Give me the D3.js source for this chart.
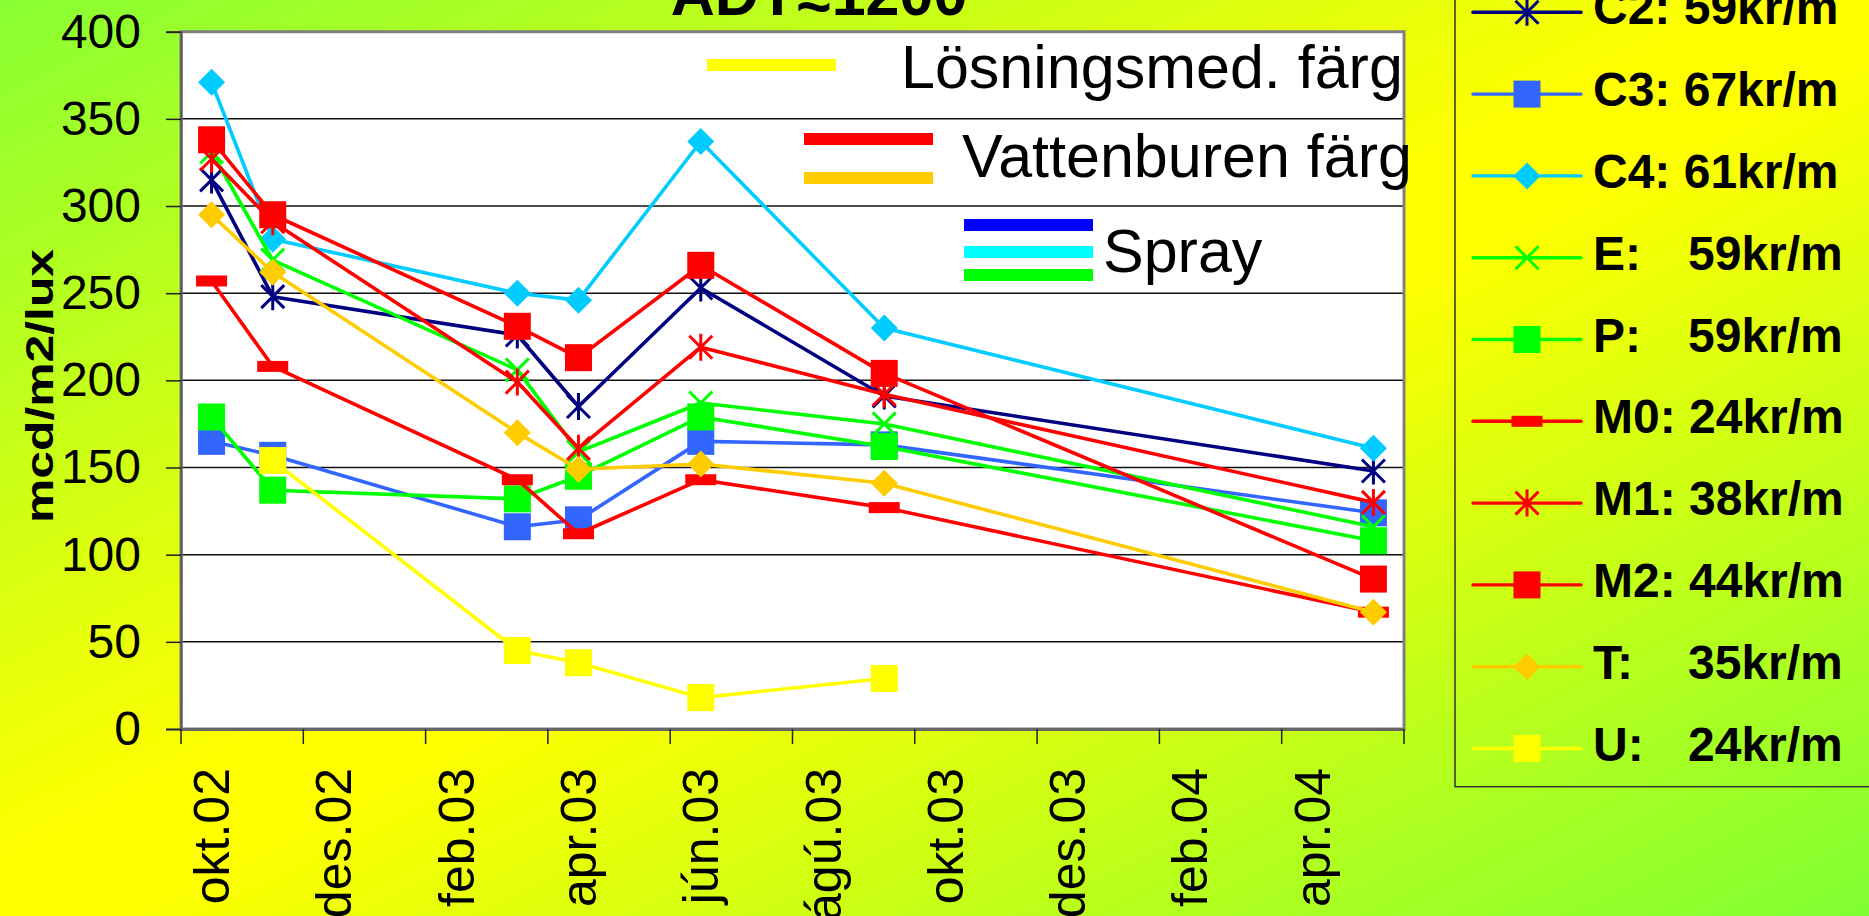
<!DOCTYPE html>
<html>
<head>
<meta charset="utf-8">
<script src="https://cdn.jsdelivr.net/npm/d3@7/dist/d3.min.js"></script>
<style>
  body { margin: 0; }
  svg { display: block; font-family: "Liberation Sans", Arial, sans-serif; }
</style>
</head>
<body>
<div id="chart"></div>
<script>

// date axis, base unit = month
const months = ['2002-10', '2002-11', '2002-12', '2003-01', '2003-02', '2003-03', '2003-04',
                '2003-05', '2003-06', '2003-07', '2003-08', '2003-09', '2003-10', '2003-11',
                '2003-12', '2004-01', '2004-02', '2004-03', '2004-04', '2004-05'];
const tickLabels = ['okt.02', 'des.02', 'feb.03', 'apr.03', 'jún.03', 'ágú.03',
                    'okt.03', 'des.03', 'feb.04', 'apr.04'];
const sampleMonths = ['2002-10', '2002-11', '2003-03', '2003-04', '2003-06', '2003-09', '2004-05'];
const yTicks = [0, 50, 100, 150, 200, 250, 300, 350, 400];

// series (legend order)
const seriesNames  = ['C2: 59kr/m', 'C3: 67kr/m', 'C4: 61kr/m', 'E:\t59kr/m', 'P:\t59kr/m',
                      'M0: 24kr/m', 'M1: 38kr/m', 'M2: 44kr/m', 'T:\t35kr/m', 'U:\t24kr/m'];
const seriesColors = ['#000080', '#3366FF', '#00CCFF', '#00FF00', '#00FF00',
                      '#FF0000', '#FF0000', '#FF0000', '#FFCC00', '#FFFF00'];
const seriesMarkers = ['star', 'square', 'diamond', 'x', 'square',
                       'dash', 'star', 'square', 'diamond', 'square'];

const valuesC2 = [315, 248, 226, 185, 253, 191, 148];
const valuesC3 = [165, 157, 116, 120, 165, 163, 124];
const valuesC4 = [371, 281, 250, 246, 337, 230, 161];
const valuesE  = [331, 269, 206, 159, 187, 175, 116];
const valuesP  = [179, 137, 132, 145, 179, 162, 108];
const valuesM0 = [257, 208, 143, 112, 143, 127, 67];
const valuesM1 = [327, 291, 199, 161, 219, 192, 130];
const valuesM2 = [338, 295, 231, 213, 266, 204, 86];
const valuesT  = [295, 262, 170, 149, 152, 141, 67];
const valuesU  = [null, 154, 45, 38, 18, 29, null];

// paint type groups drawn inside the plot
const groupLabels = ['Lösningsmed. färg', 'Vattenburen färg', 'Spray'];
const groupColors = [['#FFFF00'], ['#FF0000', '#FFCC00'], ['#0000FF', '#00FFFF', '#00FF00']];

const chartTitle = ['ADT', '~', '1200'];
const yTitle = 'mcd/m2/lux';


class LuxChart {

  constructor(_parentContainer) {
    this.parentContainer = _parentContainer;
    this.initVis();
  }

  initVis() {
    this.widthTotal  = 1869;
    this.heightTotal = 916;

    // plot area in page pixels
    this.plot = { left: 181, right: 1404, top: 31.7, bottom: 729 };

    this.svg = d3.select(this.parentContainer)
        .append('svg')
        .attr('width', this.widthTotal)
        .attr('height', this.heightTotal);

    this.addBackground();
    this.createScales();
    this.addAxes();
    this.addSeries();
    this.addGroupLegend();
    this.addLegend();
  }

  addBackground() {
    const grad = this.svg.append('defs').append('linearGradient')
        .attr('id', 'bg')
        .attr('x1', 0).attr('y1', 0)
        .attr('x2', 1).attr('y2', 1);
    grad.append('stop').attr('offset', 0).attr('stop-color', '#88FF33');
    grad.append('stop').attr('offset', 0.47).attr('stop-color', '#FFFF00');
    grad.append('stop').attr('offset', 0.53).attr('stop-color', '#FFFF00');
    grad.append('stop').attr('offset', 1).attr('stop-color', '#80FF33');

    this.svg.append('rect')
        .attr('width', this.widthTotal)
        .attr('height', this.heightTotal)
        .attr('fill', 'url(#bg)');

    // title, mostly above the page edge (tilde sits low in the original font)
    const title = this.svg.append('text')
        .attr('x', 819)
        .attr('y', 15)
        .attr('text-anchor', 'middle')
        .style('font-size', '61px')
        .style('font-weight', 'bold');
    title.append('tspan').text(chartTitle[0]);
    title.append('tspan').attr('dy', 12).text(chartTitle[1]);
    title.append('tspan').attr('dy', -12).text(chartTitle[2]);
  }

  createScales() {
    this.xScale = d3.scaleBand()
        .domain(months)
        .range([this.plot.left, this.plot.right])
        .padding(0);

    this.yScale = d3.scaleLinear()
        .domain([0, 400])
        .range([this.plot.bottom, this.plot.top]);
  }

  addAxes() {
    const p = this.plot;

    this.svg.append('rect')
        .attr('x', p.left)
        .attr('y', p.top)
        .attr('width', p.right - p.left)
        .attr('height', p.bottom - p.top)
        .attr('fill', '#fff');

    // gridlines
    this.svg.append('g')
        .selectAll('line')
        .data(yTicks.filter(d => d > 0 && d < 400))
        .join('line')
          .attr('x1', p.left)
          .attr('x2', p.right)
          .attr('y1', d => this.yScale(d))
          .attr('y2', d => this.yScale(d))
          .attr('stroke', '#111')
          .attr('stroke-width', 1.5);

    this.svg.append('rect')
        .attr('x', p.left)
        .attr('y', p.top)
        .attr('width', p.right - p.left)
        .attr('height', p.bottom - p.top)
        .attr('fill', 'none')
        .attr('stroke', '#808080')
        .attr('stroke-width', 3);

    // Y-AXIS
    this.yAxisCall = d3.axisLeft(this.yScale)
        .tickValues(yTicks)
        .tickSize(15)
        .tickPadding(25);

    this.yAxis = this.svg.append('g')
        .attr('transform', `translate(${p.left}, 0)`)
        .call(this.yAxisCall);
    this.yAxis.select('.domain').attr('stroke', '#555').attr('stroke-width', 2);
    this.yAxis.selectAll('.tick line').attr('stroke', '#222').attr('stroke-width', 1.5);
    this.yAxis.selectAll('text')
        .attr('fill', '#000')
        .style('font-size', '48px')
        .style('font-family', '"Liberation Sans", Arial, sans-serif');

    // X-AXIS: labels centred on every second month
    const labelMonths = months.filter((m, i) => i % 2 === 0);

    this.xAxisCall = d3.axisBottom(this.xScale)
        .tickValues(labelMonths)
        .tickSize(0)
        .tickFormat((m, i) => tickLabels[i]);

    this.xAxis = this.svg.append('g')
        .attr('transform', `translate(0, ${p.bottom})`)
        .call(this.xAxisCall);
    this.xAxis.select('.domain').attr('stroke', '#666').attr('stroke-width', 3);
    this.xAxis.selectAll('text')
        .attr('fill', '#000')
        .attr('transform', 'rotate(-90)')
        .attr('text-anchor', 'end')
        .attr('x', -39)
        .attr('y', 0)
        .attr('dy', '0.35em')
        .style('font-size', '50px')
        .style('font-family', '"Liberation Sans", Arial, sans-serif');

    // tick marks on the month boundaries
    const tickX = labelMonths.map(m => this.xScale(m)).concat([p.right]);
    this.svg.append('g')
        .selectAll('line')
        .data(tickX)
        .join('line')
          .attr('x1', d => d)
          .attr('x2', d => d)
          .attr('y1', p.bottom)
          .attr('y2', p.bottom + 15)
          .attr('stroke', '#222')
          .attr('stroke-width', 1.5);

    // axis title
    this.svg.append('text')
        .attr('transform', 'translate(53, 386) rotate(-90)')
        .attr('text-anchor', 'middle')
        .attr('textLength', 274)
        .attr('lengthAdjust', 'spacingAndGlyphs')
        .style('font-size', '39px')
        .style('font-weight', 'bold')
        .text(yTitle);
  }

  drawMarker(g, type, color) {
    const h = 13.5;
    if (type === 'square') {
      g.append('rect')
          .attr('x', -h).attr('y', -h)
          .attr('width', 2 * h).attr('height', 2 * h)
          .attr('fill', color);
    } else if (type === 'diamond') {
      g.append('path')
          .attr('d', `M0,${-h}L${h},0L0,${h}L${-h},0Z`)
          .attr('fill', color);
    } else if (type === 'dash') {
      g.append('rect')
          .attr('x', -15.5).attr('y', -5.5)
          .attr('width', 31).attr('height', 11)
          .attr('fill', color);
    } else {
      // x and star (x plus vertical stroke)
      let d = `M${-h + 2},${-h + 2}L${h - 2},${h - 2}M${h - 2},${-h + 2}L${-h + 2},${h - 2}`;
      if (type === 'star') d += `M0,${-h}L0,${h}`;
      g.append('path')
          .attr('d', d)
          .attr('fill', 'none')
          .attr('stroke', color)
          .attr('stroke-width', 3);
    }
  }

  addSeries() {
    const allValues = [valuesC2, valuesC3, valuesC4, valuesE, valuesP,
                       valuesM0, valuesM1, valuesM2, valuesT, valuesU];

    this.seriesData = allValues.map((vals, s) => ({
      color: seriesColors[s],
      marker: seriesMarkers[s],
      points: vals.map((v, i) => ({ month: sampleMonths[i], value: v }))
    }));

    const xc = m => this.xScale(m) + this.xScale.bandwidth() / 2;

    this.line = d3.line()
        .defined(d => d.value !== null)
        .x(d => xc(d.month))
        .y(d => this.yScale(d.value));

    this.seriesData.forEach(s => {
      const g = this.svg.append('g');

      g.append('path')
          .datum(s.points)
          .attr('d', this.line)
          .attr('fill', 'none')
          .attr('stroke', s.color)
          .attr('stroke-width', 3.6)
          .attr('stroke-linejoin', 'round');

      s.points.filter(d => d.value !== null).forEach(d => {
        const mg = g.append('g')
            .attr('transform', `translate(${xc(d.month)}, ${this.yScale(d.value)})`);
        this.drawMarker(mg, s.marker, s.color);
      });
    });
  }

  addGroupLegend() {
    // bar boxes and labels drawn on top of the plot
    const barX  = [707, 804, 964];
    const barY  = [[59], [133, 172], [219, 246, 269]];
    const textX = [901, 962, 1103];
    const textY = [88, 177, 272];

    groupLabels.forEach((label, i) => {
      groupColors[i].forEach((c, j) => {
        this.svg.append('rect')
            .attr('x', barX[i])
            .attr('y', barY[i][j])
            .attr('width', 129)
            .attr('height', 12)
            .attr('fill', c);
      });

      this.svg.append('text')
          .attr('x', textX[i])
          .attr('y', textY[i])
          .style('font-size', '61px')
          .text(label);
    });
  }

  addLegend() {
    const rowY = i => 12.3 + i * 81.8;

    this.svg.append('rect')
        .attr('x', 1455)
        .attr('y', -20)
        .attr('width', 500)
        .attr('height', 806.7)
        .attr('fill', 'none')
        .attr('stroke', '#333')
        .attr('stroke-width', 1.5);

    seriesNames.forEach((name, i) => {
      const row = this.svg.append('g')
          .attr('transform', `translate(0, ${rowY(i)})`);

      row.append('line')
          .attr('x1', 1473)
          .attr('x2', 1581)
          .attr('stroke', seriesColors[i])
          .attr('stroke-width', 3.4)
          .attr('stroke-linecap', 'round');

      const mg = row.append('g').attr('transform', 'translate(1527, 0)');
      this.drawMarker(mg, seriesMarkers[i], seriesColors[i]);

      const parts = name.split('\t');
      const txt = row.append('text')
          .attr('x', 1593)
          .attr('y', 12)
          .style('font-size', '48px')
          .style('font-weight', 'bold');

      if (parts.length > 1) {
        txt.append('tspan').text(parts[0]);
        txt.append('tspan').attr('x', 1688).text(parts[1]);
      } else {
        txt.text(name);
      }
    });
  }

}

new LuxChart('#chart');

</script>
</body>
</html>
